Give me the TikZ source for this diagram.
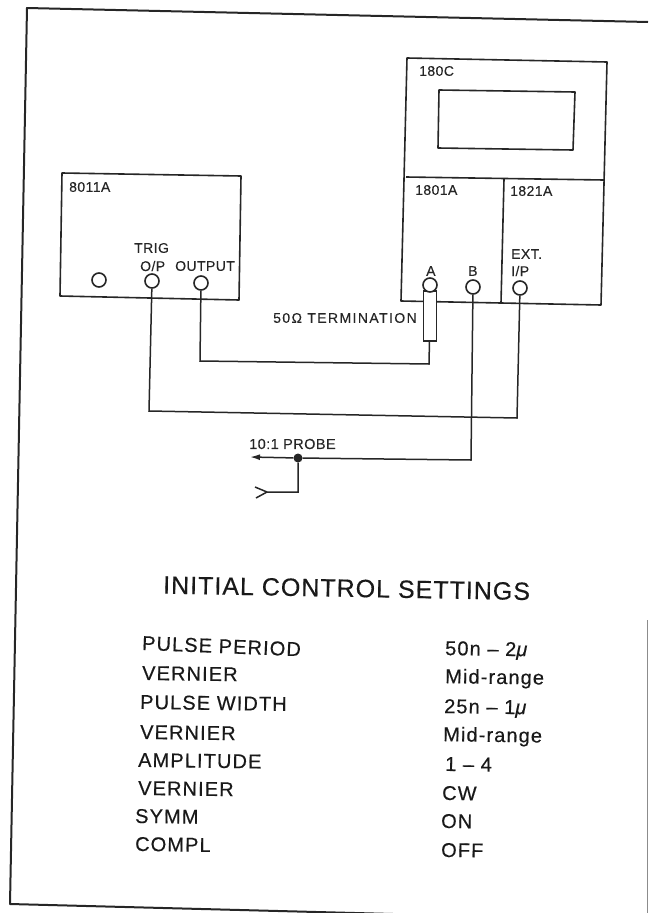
\documentclass[tikz,border=0pt]{standalone}
\usepackage{fontspec}
\usetikzlibrary{arrows.meta}
\setmainfont{Liberation Sans}
\newfontface\labfont[LetterSpace=3,FakeBold=0.2]{Liberation Sans}
\newfontface\termfont[LetterSpace=10,FakeBold=0.2]{Liberation Sans}
\newfontface\ctlfont[LetterSpace=5.5,FakeBold=0.4]{Liberation Sans}
\newfontface\ctlifont[FakeBold=0.4]{Liberation Sans Italic}
\newfontface\titlefont[LetterSpace=4,FakeBold=0.4]{Liberation Sans}
\tikzset{
  wire/.style={line width=1.5pt,black!85},
  box/.style={line width=1.6pt,black!85,line join=round},
  lab/.style={inner sep=0pt,font=\labfont\fontsize{14}{16}\selectfont,anchor=west,black!85},
  ctl/.style={inner sep=0pt,font=\ctlfont\fontsize{20}{22}\selectfont,anchor=west,black!90,rotate=-0.8},
  jack/.style={circle,draw=black!85,line width=1.6pt,fill=white,minimum size=14pt,inner sep=0pt},
}
\begin{document}
\begin{tikzpicture}[x=1pt,y=-1pt]
\useasboundingbox (0,0) rectangle (648,913);
\draw[line width=2pt,black!85,line join=round] (648,22) -- (27,8) -- (10,904) -- (470,916);
\draw[line width=1pt,black!45] (647.5,620) -- (647.5,913);
% 8011A
\draw[box] (62,173) -- (241,176) -- (239,300) -- (60,296) -- cycle;
\node[lab] (l8011) at (69,187) {8011A};
\node[lab] (ltrig) at (134,248) {TRIG};
\node[lab] (lop) at (140,266) {O/P};
\node[lab] (lout) at (175,266) {OUTPUT};
\node[jack] (j0) at (99,280) {};
\node[jack] (j1) at (152,281) {};
\node[jack] (j2) at (201,283) {};
% 180C
\draw[box] (407,58) -- (607,62) -- (601,305) -- (401,301) -- cycle;
\draw[box] (406,177) -- (604,180);
\draw[box] (504,179) -- (501,303);
\draw[box] (439,90) -- (575,92) -- (573,150) -- (438,148) -- cycle;
\node[lab] (l180) at (419,71) {180C};
\node[lab] (l1801) at (415,190) {1801A};
\node[lab] (l1821) at (510,191) {1821A};
\node[lab] (la) at (426,271) {A};
\node[lab] (lb) at (468,271) {B};
\node[lab] (lext) at (511,254) {EXT.};
\node[lab] (lip) at (511,271) {I/P};
\node[lab,font=\termfont\fontsize{14}{16}\selectfont] (lterm) at (273,318) {50Ω TERMINATION};
\node[jack] (jb) at (473,287) {};
\node[jack] (jc) at (520,288) {};
% termination
\node[draw=black!85,line width=1.6pt,fill=white,minimum width=13pt,minimum height=50pt,inner sep=0pt] (term) at (430,316) {};
\node[jack] (ja) at (430,285) {};
% wiring
\coordinate (c1) at (200,361);
\coordinate (c2) at (429,364);
\draw[wire] (j2) -- (c1) -- (c2) -- (term);
\coordinate (c3) at (149,411);
\coordinate (c4) at (517,418);
\draw[wire] (j1) -- (c3) -- (c4) -- (jc);
\coordinate (c5) at (471,460);
\coordinate (tip) at (250,457);
\node[circle,fill=black!85,minimum size=9pt,inner sep=0pt] (dot) at (298,458) {};
\draw[wire] (jb) -- (c5) -- (dot);
\draw[wire,-{Latex[length=10pt,width=6pt]}] (dot) -- (tip);
\coordinate (c6) at (298,492);
\coordinate (c7) at (267,492);
\coordinate (y1) at (255,487);
\coordinate (y2) at (256,498);
\draw[wire] (dot) -- (c6) -- (c7) -- (y1);
\draw[wire] (c7) -- (y2);
\node[lab,font=\labfont\fontsize{14.5}{16}\selectfont] (lprobe) at (249,444) {10:1 PROBE};
% settings
\node[inner sep=0pt,anchor=west,font=\titlefont\fontsize{25}{28}\selectfont,black!90,rotate=-1] (title) at (163,585) {INITIAL CONTROL SETTINGS};
\node[ctl,rotate=-1.5] (s1) at (142,643) {PULSE PERIOD};
\node[ctl] (s2) at (142,673) {VERNIER};
\node[ctl] (s3) at (140,702) {PULSE WIDTH};
\node[ctl] (s4) at (140,732) {VERNIER};
\node[ctl] (s5) at (138,760) {AMPLITUDE};
\node[ctl] (s6) at (138,788) {VERNIER};
\node[ctl] (s7) at (135,816) {SYMM};
\node[ctl] (s8) at (135,844) {COMPL};
\node[ctl] (v1) at (445,650) {50n – 2{\ctlifont μ}};
\node[ctl] (v2) at (445,678) {Mid-range};
\node[ctl] (v3) at (444,708) {25n – 1{\ctlifont μ}};
\node[ctl] (v4) at (443,736) {Mid-range};
\node[ctl] (v5) at (445,764) {1 – 4};
\node[ctl] (v6) at (442,793) {CW};
\node[ctl] (v7) at (441,821) {ON};
\node[ctl] (v8) at (441,850) {OFF};
\end{tikzpicture}
\end{document}
